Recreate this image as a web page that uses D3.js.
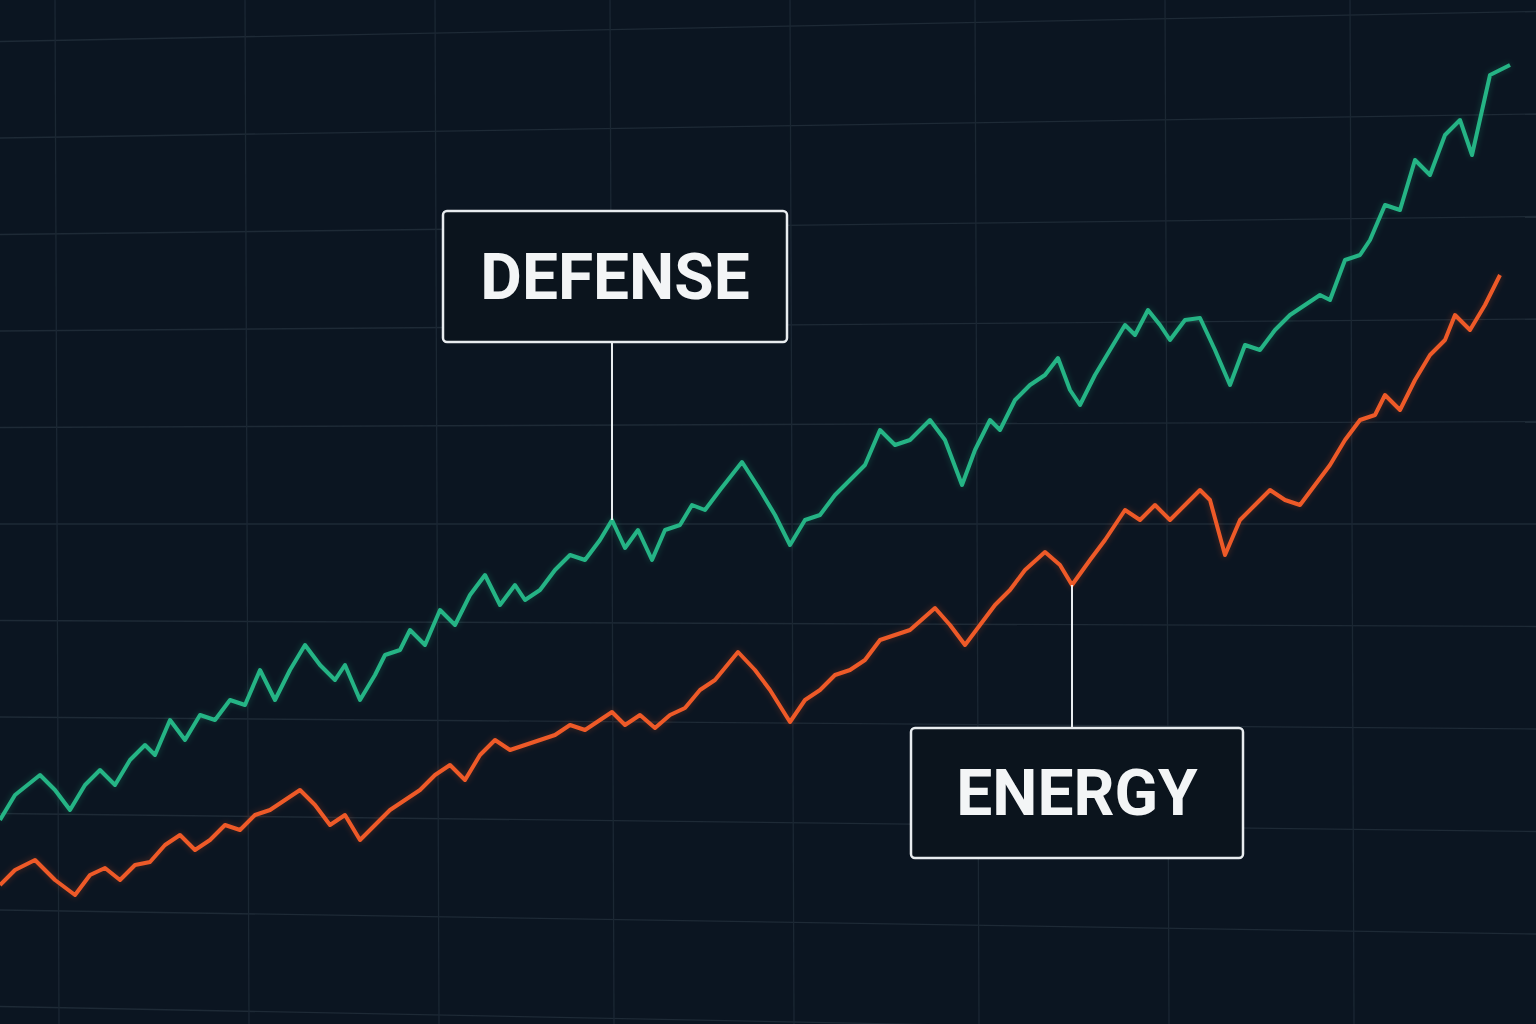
<!DOCTYPE html><html><head><meta charset="utf-8">
<script src="https://cdn.jsdelivr.net/npm/d3@7/dist/d3.min.js"></script>
<style>body{margin:0;background:#0b1521}svg{display:block}</style></head><body>
<svg id="c" width="1536" height="1024"></svg>
<script>
// time index (x) and value (y) pairs
const defenseT=[0,1.5,4,5.5,7,8.5,10,11.5,13,14.5,15.5,17,18.5,20,21.5,23,24.5,26,27.5,29,30.5,32,33.5,34.5,36,37.5,38.5,40,41,42.5,44,45.5,47,48.5,50,51.5,52.5,54,55.5,57,58.5,60,61.2,62.5,63.8,65.2,66.5,68,69.2,70.5,72,74.2,76,77.5,79,80.5,82,83.5,85,86.5,88,89.5,91,93,94.5,96.2,97.5,99,100,101.5,103,104.5,105.8,107,108,109.5,111,112.5,113.5,114.8,116,117,118.5,120,121.5,123,124.5,126,127.5,129,130.5,132,133,134.5,136,137,138.5,140,141.5,143,144.5,146,147.2,149,150,151];
const defenseV=[20.4,22.9,24.9,23.4,21.4,23.9,25.4,23.9,26.4,27.9,26.9,30.4,28.4,30.9,30.4,32.4,31.9,35.4,32.4,35.4,37.9,35.9,34.4,35.9,32.4,34.9,36.9,37.4,39.4,37.9,41.4,39.9,42.9,44.9,41.9,43.9,42.4,43.4,45.4,46.9,46.4,48.4,50.4,47.6,49.4,46.4,49.4,49.9,51.9,51.4,53.4,56.2,53.4,50.9,47.9,50.4,50.9,52.9,54.4,55.9,59.4,57.9,58.4,60.4,58.4,53.9,57.4,60.4,59.4,62.4,63.9,64.9,66.6,63.4,61.9,64.9,67.4,69.9,68.9,71.4,69.9,68.4,70.4,70.6,67.4,63.9,67.9,67.4,69.4,70.9,71.9,72.9,72.4,76.4,76.9,78.4,81.9,81.4,86.4,84.9,88.9,90.4,86.9,94.9,95.4,95.9];
const energyT=[0,1.5,3.5,5.5,7.5,9,10.5,12,13.5,15,16.5,18,19.5,21,22.5,24,25.5,27,28.5,30,31.5,33,34.5,36,37.5,39,40.5,42,43.5,45,46.5,48,49.5,51,52.5,54,55.5,57,58.5,60,61.2,62.5,64,65.5,67,68.5,70,71.5,73.8,75.5,77,79,80.5,82,83.5,85,86.5,88,89.5,91,93.5,95,96.5,98,99.5,101,102.5,104.5,106,107.2,109,110.5,112.5,114,115.5,117,118.5,120,121,122.5,124,125.5,127,128.5,130,131.5,133,134.5,136,137.5,138.5,140,141.5,143,144.5,145.5,147,148.5,150];
const energyV=[13.9,15.4,16.4,14.4,12.9,14.9,15.6,14.4,15.9,16.2,17.9,18.9,17.4,18.4,19.9,19.4,20.9,21.4,22.4,23.4,21.9,19.9,20.9,18.4,19.9,21.4,22.4,23.4,24.9,25.9,24.4,26.9,28.4,27.4,27.9,28.4,28.9,29.9,29.4,30.4,31.2,29.9,30.9,29.6,30.9,31.6,33.4,34.4,37.2,35.4,33.4,30.2,32.4,33.4,34.9,35.4,36.4,38.4,38.9,39.4,41.6,39.9,37.9,39.9,41.9,43.4,45.4,47.2,45.9,43.9,46.4,48.4,51.4,50.4,51.9,50.4,51.9,53.4,52.4,46.9,50.4,51.9,53.4,52.4,51.9,53.9,55.9,58.4,60.4,60.9,62.9,61.4,64.4,66.9,68.4,70.9,69.4,71.9,74.9];
const hGrid=[0,10,20,30,40,50,60,70,80,90,100];
const vGrid=[5.5,24.5,43.5,61,79,97.5,116.5,135];

const svg=d3.select("#c");
const x=d3.scaleLinear().domain([0,151]).range([0,1510]);
const y=d3.scaleLinear().domain([0,100]).range([1024,24]);
const g=svg.append("g");
g.selectAll(".h").data(hGrid).join("line").attr("x1",0).attr("x2",1536)
 .attr("y1",d=>y(d)+ (d-50)*0.35).attr("y2",d=>y(d)-(d-50)*0.25)
 .attr("stroke","#1e2a36").attr("stroke-width",1.3);
g.selectAll(".v").data(vGrid).join("line").attr("x1",d=>x(d)).attr("x2",d=>x(d)+4)
 .attr("y1",0).attr("y2",1024).attr("stroke","#1b2733").attr("stroke-width",1.3);
const line=d3.line().x(d=>x(d[0])).y(d=>y(d[1]));
function draw(T,V,c){
  const pts=T.map((t,i)=>[t,V[i]]);
  g.append("path").datum(pts).attr("d",line).attr("fill","none").attr("stroke",c)
   .attr("stroke-width",5).attr("stroke-linejoin","round").attr("opacity",0.25).attr("filter","blur(3px)");
  g.append("path").datum(pts).attr("d",line).attr("fill","none").attr("stroke",c)
   .attr("stroke-width",4).attr("stroke-linejoin","round");
}
draw(defenseT,defenseV,"#25b485");
draw(energyT,energyV,"#ee5a28");
function label(txt,bx,by,bw,bh,px,pyTop){
  g.append("line").attr("x1",px).attr("x2",px).attr("y1",by+(pyTop>by?bh:0)).attr("y2",pyTop)
   .attr("stroke","#e8ecef").attr("stroke-width",2);
  g.append("rect").attr("x",bx).attr("y",by).attr("width",bw).attr("height",bh).attr("rx",4)
   .attr("fill","#0b141d").attr("stroke","#e8ecef").attr("stroke-width",2.5);
  g.append("text").attr("x",bx+bw/2).attr("y",by+bh/2+22).attr("text-anchor","middle")
   .attr("font-family","Roboto, 'DejaVu Sans Condensed'").attr("font-weight","bold")
   .attr("font-size",64).attr("fill","#f3f5f6").text(txt);
}
label("DEFENSE",443,211,344,131,612,y(50.4));
label("ENERGY",911,728,332,130,1072,y(43.9));
</script></body></html>
